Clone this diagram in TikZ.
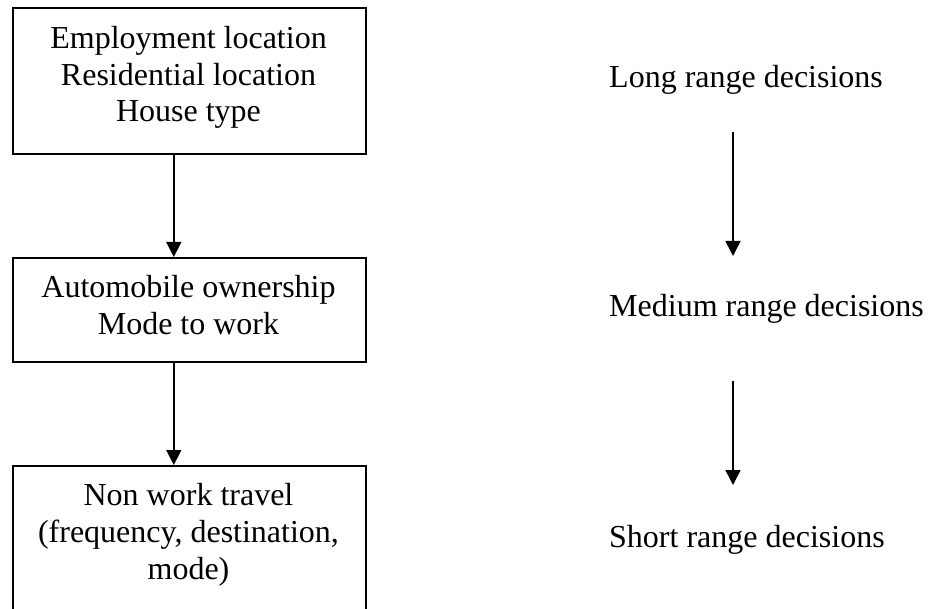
\documentclass[tikz,border=0pt]{standalone}
\usepackage{fontspec}
\setmainfont{Liberation Serif}
\usetikzlibrary{arrows.meta}
\begin{document}
\begin{tikzpicture}[x=1pt,y=-1pt,
  box/.style={draw, line width=1.6pt, rectangle, minimum width=353pt, inner sep=0pt, anchor=north west},
  txt/.style={inner sep=0pt, align=center, font=\fontsize{32}{36.8}\selectfont},
  lbl/.style={inner sep=0pt, anchor=base west, font=\fontsize{32}{36.8}\selectfont},
  arr/.style={line width=1.6pt, -{Triangle[length=15pt,width=15pt]}}]
\clip (0,0) rectangle (929,609);
\node[box, minimum height=146pt] (b1) at (12,7) {};
\node[box, minimum height=104pt] (b2) at (12,257) {};
\node[box, minimum height=200pt] (b3) at (12,465) {};
\node[txt, anchor=north] (t1) at (188.5,26) {Employment location\\Residential location\\House type};
\node[txt, anchor=north] (t2) at (188.5,275) {Automobile ownership\\Mode to work};
\node[txt, anchor=north] (t3) at (188.5,483) {Non work travel\\(frequency, destination,\\mode)};
\draw[arr] ([xshift=-15.5pt]b1.south) -- ([xshift=-15.5pt]b2.north);
\draw[arr] ([xshift=-15.5pt]b2.south) -- ([xshift=-15.5pt]b3.north);
\node[lbl] (l1) at (609,88) {Long range decisions};
\node[lbl] (l2) at (609,317) {Medium range decisions};
\node[lbl] (l3) at (609,547) {Short range decisions};
\coordinate (a1s) at (733,132);
\coordinate (a1e) at (733,256);
\coordinate (a2s) at (733,381);
\coordinate (a2e) at (733,485);
\draw[arr] (a1s) -- (a1e);
\draw[arr] (a2s) -- (a2e);
\end{tikzpicture}
\end{document}
